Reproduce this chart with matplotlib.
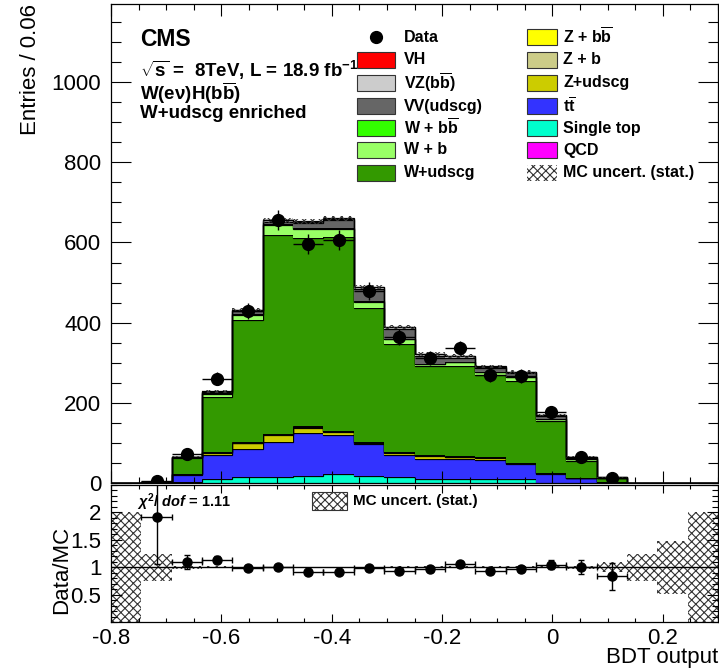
"""Stacked BDT output distribution with Data/MC ratio panel."""

import numpy as np
import matplotlib

matplotlib.use("Agg")
import matplotlib.pyplot as plt
from matplotlib.patches import Rectangle
from matplotlib.lines import Line2D
from matplotlib.ticker import MultipleLocator, FixedLocator, FormatStrFormatter

# binning of the BDT output
bin_lo, bin_hi, n_bins = -0.8, 0.3, 20

data = [0, 5, 72, 260, 429, 656, 596, 606, 479, 364,
        312, 337, 269, 267, 177, 65, 12, 0, 0, 0]

qcd = [0] * 20
single_top = [0.1, 0.3, 2, 10, 14, 16, 18, 22, 17, 14,
              10, 10, 10, 10, 0.5, 0.3, 0, 0, 0, 0]
ttbar = [0.05, 0.8, 18, 60, 72, 87, 107, 98, 80, 56,
         51, 50, 47, 37, 21.5, 11.7, 3, 0.5, 0.1, 0]
z_udscg = [0, 0.1, 1.5, 6, 13, 17, 13, 8, 4, 6,
           7, 5, 6, 3, 2, 1, 0.5, 0.1, 0, 0]
z_b = [0, 0, 0.5, 1, 1.5, 2, 2, 1.5, 1, 1,
       1, 1, 1, 0.5, 0.5, 0.2, 0.1, 0, 0, 0]
z_bb = [0, 0, 0.3, 0.5, 1, 1, 1, 1, 0.5, 0.5,
        0.5, 0.5, 0.5, 0.5, 0.3, 0.1, 0.1, 0, 0, 0]
w_udscg = [0.1, 1.2, 39.7, 136.5, 304.5, 495, 469, 483.5, 333.5, 270.5,
           222.5, 225.5, 204.5, 204, 130, 41.7, 9.3, 0.4, 0.15, 0.05]
w_b = [0, 0.1, 2.5, 9, 13, 25, 23, 20, 16, 11,
       5, 10, 8, 9, 4, 4, 0.5, 0.1, 0, 0]
w_bb = [0, 0.05, 0.5, 1, 2, 2, 2, 2, 2, 1,
        1, 1, 1, 1, 1, 0.5, 0.1, 0, 0, 0]
vv_udscg = [0, 0.05, 0.5, 3, 8, 7, 14, 20, 30, 25,
            20, 10, 10, 9, 7, 4, 0.5, 0.1, 0.05, 0]
vz_bb = [0, 0, 0.2, 1, 2, 3, 3, 3, 4, 4,
         3, 3, 2, 2, 2, 1, 0.2, 0, 0, 0]
vh = [0, 0, 0.1, 0.3, 0.5, 0.8, 1, 1, 1, 1,
      0.8, 0.8, 0.7, 0.7, 0.6, 0.3, 0.1, 0, 0, 0]

# relative MC statistical uncertainty per bin
mc_rel_unc = [1.0, 0.25, 0.03, 0.015, 0.012, 0.01, 0.01, 0.01, 0.012, 0.013,
              0.014, 0.015, 0.016, 0.018, 0.02, 0.03, 0.09, 0.25, 0.48, 1.0]

chi2_ndof = 1.11

# legend entries: (label, values, colour); stacked bottom to top is the reverse
components = [
    ("VH", vh, "#ff0000"),
    (r"VZ(b$\overline{\mathrm{b}}$)", vz_bb, "#cccccc"),
    ("VV(udscg)", vv_udscg, "#666666"),
    (r"W + b$\overline{\mathrm{b}}$", w_bb, "#33ff00"),
    ("W + b", w_b, "#99ff66"),
    ("W+udscg", w_udscg, "#339900"),
    (r"Z + b$\overline{\mathrm{b}}$", z_bb, "#ffff00"),
    ("Z + b", z_b, "#cccc88"),
    ("Z+udscg", z_udscg, "#cccc00"),
    (r"t$\overline{\mathrm{t}}$", ttbar, "#3333ff"),
    ("Single top", single_top, "#00ffcc"),
    ("QCD", qcd, "#ff00ff"),
]

HATCH = "xxxx"
HATCH_COLOR = "#333333"

plt.rcParams["font.family"] = "Liberation Sans"
plt.rcParams["mathtext.fontset"] = "custom"
plt.rcParams["mathtext.rm"] = "Liberation Sans:bold"
plt.rcParams["mathtext.bf"] = "Liberation Sans:bold"
plt.rcParams["mathtext.it"] = "Liberation Sans:italic:bold"
plt.rcParams["axes.unicode_minus"] = False
plt.rcParams["hatch.linewidth"] = 0.8

W, H = 719, 672
fig = plt.figure(figsize=(W / 100, H / 100), dpi=100)


def fpos(x, y):
    """pixel position (from top-left) -> figure fraction"""
    return x / W, 1 - y / H


ax = fig.add_axes([111 / W, 1 - 483 / H, 607 / W, 479 / H])
rax = fig.add_axes([111 / W, 1 - 622 / H, 607 / W, 137 / H])

edges = np.linspace(bin_lo, bin_hi, n_bins + 1)
centers = 0.5 * (edges[:-1] + edges[1:])
half_w = 0.5 * (edges[1] - edges[0])

# stacked MC histograms
bottom = np.zeros(n_bins)
for label, vals, color in reversed(components):
    vals = np.asarray(vals, dtype=float)
    top = bottom + vals
    ax.stairs(top, edges, baseline=bottom, fill=True, color=color, lw=0)
    ax.stairs(top, edges, baseline=None, color="black", lw=0.9)
    bottom = top
mc_total = bottom
mc_err = mc_total * np.asarray(mc_rel_unc)

ax.stairs(mc_total + mc_err, edges, baseline=mc_total - mc_err, fill=True,
          facecolor="none", edgecolor=HATCH_COLOR, hatch=HATCH, lw=0)

data = np.asarray(data, dtype=float)
has = data > 0
ax.errorbar(centers[has], data[has], yerr=np.sqrt(data[has]), xerr=half_w,
            fmt="o", color="black", ms=8.5, elinewidth=1, capsize=0)

ax.set_xlim(bin_lo, bin_hi)
ax.set_ylim(0, 1195)
ax.yaxis.set_major_locator(FixedLocator([0, 200, 400, 600, 800, 1000]))
ax.yaxis.set_minor_locator(MultipleLocator(50))
ax.xaxis.set_major_locator(MultipleLocator(0.2))
ax.xaxis.set_minor_locator(MultipleLocator(0.05))
ax.tick_params(axis="x", labelbottom=False)

# ratio panel
ratio = data[has] / mc_total[has]
ratio_err = np.sqrt(data[has]) / mc_total[has]
rel = np.asarray(mc_rel_unc)
rax.stairs(1 + rel, edges, baseline=1 - rel, fill=True, facecolor="none",
           edgecolor=HATCH_COLOR, hatch=HATCH, lw=0)
rax.axhline(1, color="black", lw=1)
rax.errorbar(centers[has], ratio, yerr=ratio_err, xerr=half_w, fmt="o",
             color="black", ms=6.5, elinewidth=1, capsize=2.5)
rax.set_xlim(bin_lo, bin_hi)
rax.set_ylim(0, 2.5)
rax.yaxis.set_major_locator(FixedLocator([0.5, 1, 1.5, 2]))
rax.yaxis.set_major_formatter(FormatStrFormatter("%g"))
rax.yaxis.set_minor_locator(MultipleLocator(0.1))
rax.xaxis.set_major_locator(MultipleLocator(0.2))
rax.xaxis.set_minor_locator(MultipleLocator(0.05))
rax.xaxis.set_major_formatter(FormatStrFormatter("%g"))

for a in (ax, rax):
    a.tick_params(which="both", direction="in", top=True, right=True,
                  labelsize=16, width=0.8, color="black")
    a.tick_params(axis="y", which="major", pad=7)
    for s in a.spines.values():
        s.set_linewidth(0.9)
ax.tick_params(axis="y", which="major", length=14.5)
ax.tick_params(axis="y", which="minor", length=7)
ax.tick_params(axis="x", which="major", length=8.5)
ax.tick_params(axis="x", which="minor", length=4.3)
rax.tick_params(axis="y", which="major", length=8)
rax.tick_params(axis="y", which="minor", length=4)
rax.tick_params(axis="x", which="major", length=5.5, pad=4)
rax.tick_params(axis="x", which="minor", length=3)

# axis titles
fig.text(*fpos(31, 4), "Entries / 0.06", rotation=90, ha="center", va="top",
         fontsize=16)
fig.text(*fpos(62, 570), "Data/MC", rotation=90, ha="center", va="center",
         fontsize=16)
fig.text(*fpos(718, 658), "BDT output", ha="right", va="center", fontsize=16)

# labels
fig.text(*fpos(140, 39), "CMS", fontsize=16.5, fontweight="bold", va="center")
fig.text(*fpos(140, 70), r"$\sqrt{\mathrm{s}}$ =  8TeV, L = 18.9 fb$^{\mathrm{-1}}$",
         fontsize=13.5, fontweight="bold", va="center")
fig.text(*fpos(140, 93), r"W(e$\mathrm{\nu}$)H(b$\overline{\mathrm{b}}$)",
         fontsize=13.5, fontweight="bold", va="center")
fig.text(*fpos(140, 114), "W+udscg enriched", fontsize=13.5,
         fontweight="bold", va="center")

# legend, two columns
rows = [37, 60, 83, 106, 128, 150, 173]
col_box = [(357, 395), (527, 557)]
col_txt = [404, 563]
entries = [("Data", None, "data")] + [(l, c, "box") for l, _, c in components]
entries.append(("MC uncert. (stat.)", None, "hatch"))
for i, (label, color, kind) in enumerate(entries):
    col, row = divmod(i, 7)
    y = rows[row]
    x0, x1 = col_box[col]
    if kind == "data":
        fig.add_artist(Line2D([(x0 + x1) / 2 / W], [1 - y / H], marker="o",
                              color="black", ms=8.5, transform=fig.transFigure))
    elif kind == "box":
        fig.add_artist(Rectangle(fpos(x0, y + 7.5), (x1 - x0) / W, 15 / H,
                                 facecolor=color, edgecolor="#333333", lw=0.8,
                                 transform=fig.transFigure))
    else:
        fig.add_artist(Rectangle(fpos(x0, y + 7.5), (x1 - x0) / W, 15 / H,
                                 facecolor="none", edgecolor=HATCH_COLOR, lw=0,
                                 hatch=HATCH, transform=fig.transFigure))
    fig.text(*fpos(col_txt[col], y), label, fontsize=11.5, fontweight="bold",
             va="center")

# ratio panel annotations
fig.text(*fpos(137, 502), r"$\chi^{2}$/ $dof$ = %.2f" % chi2_ndof, fontsize=10.5,
         fontweight="bold", va="center")
fig.add_artist(Rectangle(fpos(312, 510), 35 / W, 18 / H, facecolor="none",
                         edgecolor=HATCH_COLOR, lw=0.8, hatch=HATCH,
                         transform=fig.transFigure))
fig.text(*fpos(353, 501), "MC uncert. (stat.)", fontsize=11, fontweight="bold",
         va="center")

fig.savefig("out.png", dpi=100)
